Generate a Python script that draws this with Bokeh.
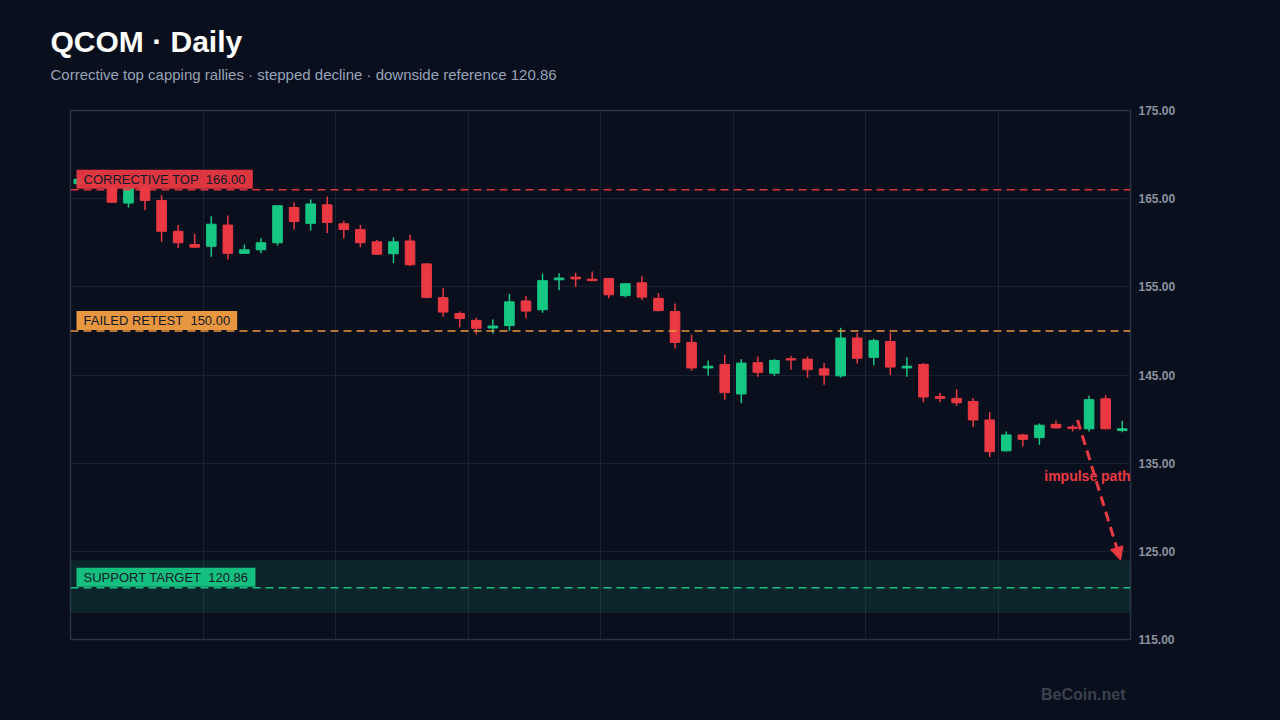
from bokeh.plotting import figure
from bokeh.models import (ColumnDataSource, Range1d, LinearAxis, FixedTicker, Grid, Title,
                          NumeralTickFormatter, Span, BoxAnnotation, Label, Arrow, NormalHead)
from bokeh.embed import file_html
from bokeh.resources import INLINE

# ---- data ----
opens = [166.7, 167.4, 166.3, 164.5, 166.2, 164.8, 161.3, 159.8, 159.6, 162.0,
         158.8, 159.2, 160.0, 164.0, 162.2, 164.3, 162.15, 161.5, 160.1, 158.75,
         160.2, 157.6, 153.77, 151.98, 151.2, 150.33, 150.6, 153.4, 152.4, 155.8,
         156.1, 155.87, 155.95, 154.0, 155.46, 153.7, 152.2, 148.7, 145.8, 146.2,
         142.85, 146.4, 145.2, 146.85, 146.8, 145.7, 144.9, 149.2, 147.0, 148.8,
         145.8, 146.2, 142.55, 142.35, 142.0, 139.9, 136.4, 138.2, 137.9, 139.4,
         139.1, 138.9, 142.3, 138.7]
highs = [167.6, 167.8, 166.8, 166.6, 166.7, 165.4, 162.0, 161.0, 163.0, 163.1,
         159.8, 160.5, 164.2, 164.6, 164.9, 165.25, 162.5, 162.0, 160.3, 160.6,
         160.9, 157.7, 154.85, 152.2, 151.5, 151.3, 154.2, 154.0, 156.5, 156.55,
         156.6, 156.75, 156.0, 155.4, 156.2, 154.3, 153.1, 149.6, 146.65, 147.3,
         146.8, 147.1, 146.8, 147.15, 147.1, 146.35, 150.35, 149.75, 149.1, 149.8,
         147.0, 146.35, 143.0, 143.4, 142.4, 140.8, 138.6, 138.35, 139.5, 139.8,
         139.35, 142.65, 142.7, 139.8]
lows = [166.4, 166.3, 164.5, 164.0, 163.7, 160.1, 159.4, 159.4, 158.4, 158.1,
        158.8, 158.8, 159.7, 161.5, 161.4, 161.1, 160.5, 159.5, 158.65, 157.7,
        157.35, 153.7, 151.6, 150.4, 149.6, 149.7, 150.0, 151.45, 152.06, 154.6,
        155.0, 155.7, 153.7, 153.8, 153.5, 152.2, 148.0, 145.5, 144.95, 142.2,
        141.8, 144.8, 144.9, 145.6, 144.7, 143.9, 144.7, 146.3, 146.1, 145.0,
        144.8, 141.9, 141.9, 141.5, 139.1, 135.7, 136.3, 136.9, 137.1, 138.95,
        138.6, 138.6, 138.85, 138.5]
closes = [167.2, 166.6, 164.6, 166.2, 164.8, 161.3, 160.0, 159.5, 162.1, 158.8,
          159.2, 160.0, 164.2, 162.4, 164.4, 162.3, 161.5, 160.0, 158.7, 160.1,
          157.5, 153.8, 152.14, 151.4, 150.3, 150.55, 153.3, 152.25, 155.7, 156.0,
          155.9, 155.7, 154.1, 155.35, 153.83, 152.3, 148.7, 145.8, 146.0, 143.0,
          146.35, 145.3, 146.65, 146.7, 145.6, 145.0, 149.2, 146.9, 148.9, 145.9,
          146.0, 142.5, 142.35, 141.85, 139.9, 136.3, 138.2, 137.7, 139.3, 139.0,
          138.95, 142.2, 138.9, 138.9]

y_ticks = [115, 125, 135, 145, 155, 165, 175]
x_grid = [7.5, 15.5, 23.5, 31.5, 39.5, 47.5, 55.5]

corrective_top = 166.00
failed_retest = 150.00
support_target = 120.86
support_zone = (118.0, 124.0)
impulse_start = (60.3, 139.9)
impulse_end = (62.9, 124.0)

BG = "#0a0f1e"
UP = "#16c784"
DOWN = "#ea3943"
ORANGE = "#f59e42"
FONT = "Liberation Sans"

idx = list(range(len(opens)))
colors = [UP if c >= o else DOWN for o, c in zip(opens, closes)]
src = ColumnDataSource(dict(
    x=idx, open=opens, close=closes, high=highs, low=lows,
    top=[max(o, c) for o, c in zip(opens, closes)],
    bottom=[min(o, c) for o, c in zip(opens, closes)],
    color=colors,
))

p = figure(width=1280, height=720, output_backend="svg", toolbar_location=None, title=None,
           x_range=Range1d(-0.5, 63.5), y_range=Range1d(115, 175),
           x_axis_location=None, y_axis_location=None,
           background_fill_color=BG, border_fill_color=BG,
           min_border_left=70, min_border_right=150, min_border_top=110, min_border_bottom=81)
p.outline_line_color = "#2c3345"
p.outline_line_width = 1.5
for g in p.grid:
    g.visible = False

yaxis = LinearAxis(ticker=FixedTicker(ticks=y_ticks), formatter=NumeralTickFormatter(format="0.00"))
yaxis.axis_line_color = None
yaxis.major_tick_line_color = None
yaxis.minor_tick_line_color = None
yaxis.major_tick_out = 0
yaxis.major_tick_in = 0
yaxis.major_label_standoff = 8
yaxis.major_label_text_color = "#8b929e"
yaxis.major_label_text_font = FONT
yaxis.major_label_text_font_style = "bold"
yaxis.major_label_text_font_size = "12px"
p.add_layout(yaxis, "right")

p.add_layout(Grid(dimension=1, ticker=FixedTicker(ticks=y_ticks), grid_line_color="#1a2132"))
p.add_layout(Grid(dimension=0, ticker=FixedTicker(ticks=x_grid), grid_line_color="#1a2132"))

# support zone
p.add_layout(BoxAnnotation(bottom=support_zone[0], top=support_zone[1],
                           fill_color=UP, fill_alpha=0.12, line_color=None))

# candles
p.segment(x0="x", x1="x", y0="low", y1="high", color="color", line_width=1.5, source=src)
p.vbar(x="x", width=0.58, top="top", bottom="bottom", fill_color="color",
       line_color="color", line_width=1, source=src)

# levels
levels = [(corrective_top, DOWN, "CORRECTIVE TOP\u00a0\u00a0%.2f" % corrective_top),
          (failed_retest, ORANGE, "FAILED RETEST\u00a0\u00a0%.2f" % failed_retest),
          (support_target, UP, "SUPPORT TARGET\u00a0\u00a0%.2f" % support_target)]
for lvl, col, txt in levels:
    p.add_layout(Span(location=lvl, dimension="width", line_color=col,
                      line_dash="8 5", line_width=1.5, line_alpha=0.95))
    p.add_layout(Label(x=6, y=lvl, x_units="screen", text=txt, text_baseline="bottom",
                       text_font=FONT, text_font_size="13px",
                       text_color="#141a28", background_fill_color=col,
                       background_fill_alpha=0.95, padding=(7, 2), y_offset=1))

# impulse path
p.add_layout(Arrow(x_start=impulse_start[0], y_start=impulse_start[1],
                   x_end=impulse_end[0], y_end=impulse_end[1],
                   line_color=DOWN, line_width=3, line_dash="10 6",
                   end=NormalHead(size=13, fill_color=DOWN, line_color=DOWN)))
p.add_layout(Label(x=60.9, y=133.6, text="impulse path", text_align="center",
                   text_baseline="middle", text_font=FONT,
                   text_font_size="14px", text_font_style="bold", text_color=DOWN))

# titles: stacked outward from the frame (spacer, subtitle, title)
p.add_layout(Title(text=" ", text_font_size="1px", standoff=25), "above")
p.add_layout(Title(text="Corrective top capping rallies · stepped decline · downside reference 120.86",
                   align="left", offset=-20, standoff=0, text_font=FONT,
                   text_font_size="15px", text_font_style="normal", text_color="#97a3b6"), "above")
p.add_layout(Title(text="QCOM · Daily", align="left", offset=-20, standoff=11,
                   text_font=FONT, text_font_size="30px", text_font_style="bold",
                   text_color="#ffffff"), "above")
# watermark below the frame
p.add_layout(Title(text=" ", text_font_size="1px", standoff=41), "below")
p.add_layout(Title(text="BeCoin.net", align="right", offset=5, standoff=0,
                   text_font=FONT, text_font_size="16px", text_font_style="bold",
                   text_color="#3b414d"), "below")

html = file_html(p, INLINE, "QCOM Daily")
html = html.replace("<head>", "<head><style>body{background:%s;}</style>" % BG, 1)
open("out.html", "w").write(html)
